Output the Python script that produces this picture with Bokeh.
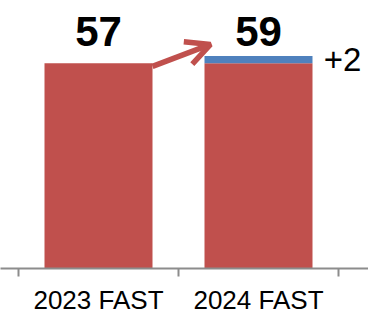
from bokeh.plotting import figure
from bokeh.models import Range1d, FixedTicker, Arrow, OpenHead, ColumnDataSource
from bokeh.core.properties import value
from bokeh.embed import file_html
from bokeh.resources import INLINE

categories = ["2023 FAST", "2024 FAST"]
base_values = [57, 57]
increase_values = [0, 2]
increase_labels = ["", "+2"]

RED = "#C0504D"
BLUE = "#4F81BD"
FONT = "Liberation Sans"

xs = [i + 0.5 for i in range(len(categories))]
totals = [b + d for b, d in zip(base_values, increase_values)]
bar_w = 0.675

p = figure(frame_width=368, frame_height=268, min_border=0,
           x_range=Range1d(-0.1125, 2.1875), y_range=Range1d(0, 74.4),
           output_backend="svg", toolbar_location=None, y_axis_location=None)
p.outline_line_color = None
p.xgrid.visible = False
p.ygrid.visible = False
p.background_fill_color = "white"
p.border_fill_color = "white"

src = ColumnDataSource(dict(x=xs, base=base_values, top=totals,
                            zero=[0] * len(xs)))
p.vbar(x="x", bottom="zero", top="base", width=bar_w, source=src,
       fill_color=RED, line_color=None)
p.vbar(x="x", bottom="base", top="top", width=bar_w, source=src,
       fill_color=BLUE, line_color=None)

# value labels
label_y = max(totals) + 6.8
p.text(x=xs, y=[label_y] * len(xs), text=[str(t) for t in totals],
       text_font=value(FONT), text_font_style="bold", text_font_size="42px",
       text_align="center", text_baseline="alphabetic", text_color="black")

# increase label
inc_x = [x + bar_w / 2 + 0.07 for x, d in zip(xs, increase_values) if d]
inc_y = [(b + b + d) / 2 for b, d in zip(base_values, increase_values) if d]
inc_t = [t for t, d in zip(increase_labels, increase_values) if d]
p.text(x=inc_x, y=inc_y, text=inc_t, text_font=value(FONT),
       text_font_size="33px", text_align="left", text_baseline="alphabetic",
       text_color="black")

# arrow
p.add_layout(Arrow(end=OpenHead(size=24, line_color=RED, line_width=5.5),
                   x_start=xs[0] + bar_w / 2, y_start=base_values[0] - 0.9,
                   x_end=xs[1] - 0.3, y_end=totals[1] + 3.2,
                   line_color=RED, line_width=5.5))

ax = p.xaxis[0]
ax.ticker = FixedTicker(ticks=xs, minor_ticks=[0, 1, 2])
ax.major_label_overrides = {x: c for x, c in zip(xs, categories)}
ax.major_tick_line_color = None
ax.major_tick_out = 0
ax.major_tick_in = 0
ax.minor_tick_out = 8
ax.minor_tick_in = 0
ax.minor_tick_line_color = "#8C8C8C"
ax.minor_tick_line_width = 2
ax.axis_line_color = "#8C8C8C"
ax.axis_line_width = 2
ax.major_label_text_font = FONT
ax.major_label_text_font_size = "26px"
ax.major_label_text_color = "black"
ax.major_label_standoff = 8

open("out.html", "w").write(file_html(p, INLINE))
